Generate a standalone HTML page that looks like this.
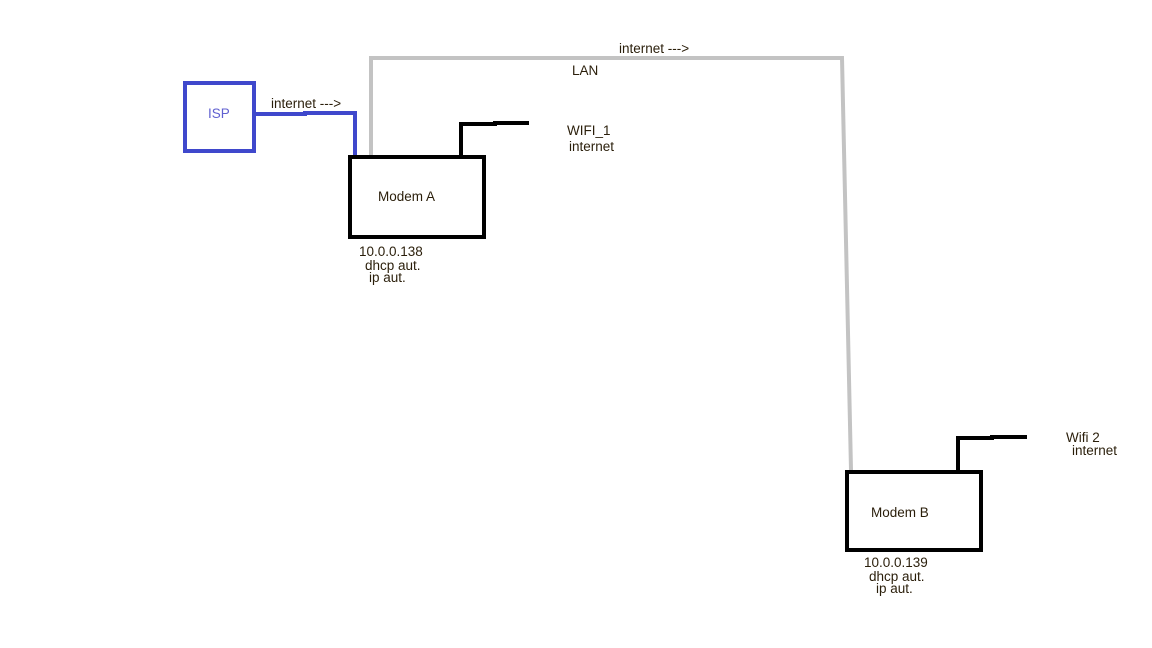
<!DOCTYPE html>
<html><head><meta charset="utf-8"><style>
html,body{margin:0;padding:0;background:#fff;}
svg{display:block}
text{font-family:"Liberation Sans",sans-serif;font-size:13.5px;fill:#2a1e0a;}
</style></head><body>
<svg width="1152" height="648" viewBox="0 0 1152 648" xmlns="http://www.w3.org/2000/svg">
<rect x="0" y="0" width="1152" height="648" fill="#fff"/>
<rect x="185" y="83" width="69" height="68" fill="none" stroke="#3f48cc" stroke-width="4"/>
<text x="208" y="118" style="fill:#6060d0">ISP</text>
<polyline points="254,114 305,114 305,113 355,113 355,156" fill="none" stroke="#3f48cc" stroke-width="4"/>
<text x="271" y="108">internet ---&gt;</text>
<polyline points="371,156 371,58 842,58 851,470" fill="none" stroke="#c3c3c3" stroke-width="4"/>
<text x="619" y="53">internet ---&gt;</text>
<text x="572" y="75">LAN</text>
<rect x="350" y="157" width="134" height="80" fill="none" stroke="#000" stroke-width="4"/>
<polyline points="461,156 461,124 495,124 495,123 529,123" fill="none" stroke="#000" stroke-width="4"/>
<text x="378" y="201">Modem A</text>
<text x="359" y="256">10.0.0.138</text>
<text x="365" y="270">dhcp aut.</text>
<text x="369" y="282">ip aut.</text>
<text x="567" y="135">WIFI_1</text>
<text x="569" y="151">internet</text>
<rect x="847" y="472" width="134" height="78" fill="none" stroke="#000" stroke-width="4"/>
<polyline points="958,471 958,438 992,438 992,437 1027,437" fill="none" stroke="#000" stroke-width="4"/>
<text x="871" y="517">Modem B</text>
<text x="864" y="567">10.0.0.139</text>
<text x="869" y="581">dhcp aut.</text>
<text x="876" y="593">ip aut.</text>
<text x="1066" y="442">Wifi 2</text>
<text x="1072" y="455">internet</text>
</svg>
</body></html>
